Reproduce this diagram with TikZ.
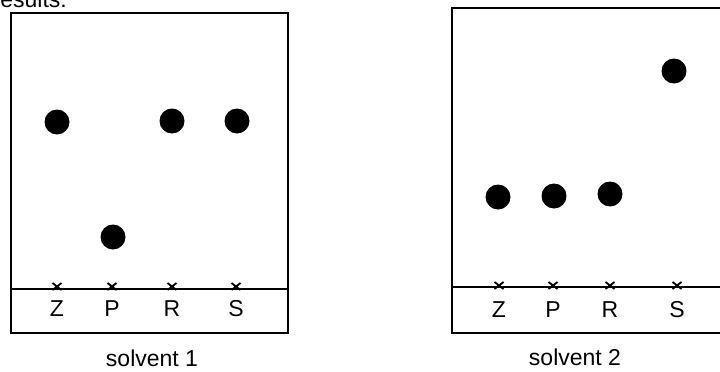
\documentclass[tikz,border=0pt]{standalone}
\usepackage{fontspec}
\setmainfont{Liberation Sans}
\usepackage{tikz}
\usetikzlibrary{positioning}
\tikzset{
  plate/.style={draw, line width=1.4pt},
  spot/.style={circle, fill=black, inner sep=0pt, minimum size=25pt},
  mark x/.style={line width=1.8pt},
  lane/.style={inner sep=0pt, anchor=base, font=\fontsize{23}{26}\selectfont},
  caption/.style={inner sep=0pt, anchor=base, font=\fontsize{23}{26}\selectfont},
}

\begin{document}
\begin{tikzpicture}[x=1pt, y=-1pt]
  \useasboundingbox (0,0) rectangle (720,372);
  \clip (0,0) rectangle (720,372);
  % heading cut off at the top
  \node[caption, anchor=base west] (head) at (-7.5,7) {results:};
  % plate 1
  \draw[plate] (11,13) rectangle (288,333);
  \draw[plate] (11,289) -- (288,289);
  \foreach \x/\l in {57/Z, 112/P, 172/R, 236/S} {
    \draw[mark x] (\x-4.5,283) -- (\x+4.5,290) (\x-4.5,290) -- (\x+4.5,283);
    \node[lane] (a\l) at (\x,316) {\l};
  }
  \node[spot] (az) at (57,122) {};
  \node[spot] (ap) at (113,237) {};
  \node[spot] (ar) at (172,121) {};
  \node[spot] (as) at (237,121) {};
  \node[caption] (solv1) at (152,366) {solvent 1};
  % plate 2
  \draw[plate] (730,8) -- (452,8) -- (452,333) -- (730,333);
  \draw[plate] (452,287) -- (730,287);
  \foreach \x/\l in {499/Z, 553/P, 610/R, 677/S} {
    \draw[mark x] (\x-4.5,282) -- (\x+4.5,289) (\x-4.5,289) -- (\x+4.5,282);
    \node[lane] (b\l) at (\x,317) {\l};
  }
  \node[spot] (bz) at (498,197) {};
  \node[spot] (bp) at (554,196) {};
  \node[spot] (br) at (610,194) {};
  \node[spot] (bs) at (674,71) {};
  \node[caption] (solv2) at (575,365) {solvent 2};
\end{tikzpicture}
\end{document}
